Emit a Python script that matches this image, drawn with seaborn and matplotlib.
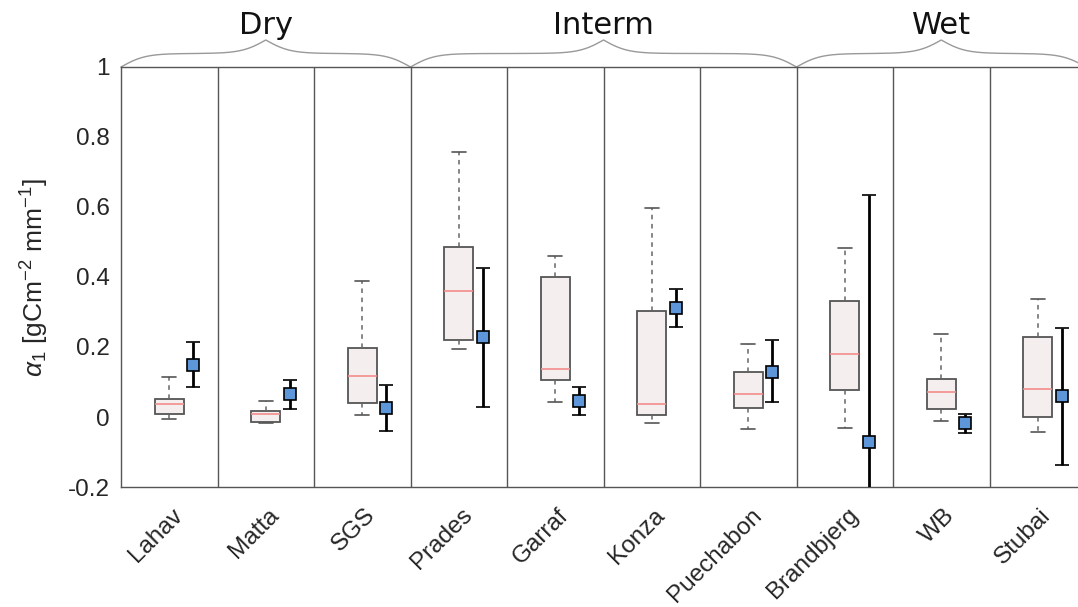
import numpy as np
import pandas as pd
import matplotlib
matplotlib.use("Agg")
import matplotlib.pyplot as plt
import matplotlib.transforms as mtransforms
import seaborn as sns

# sites along the x axis
sites = ["Lahav", "Matta", "SGS", "Prades", "Garraf", "Konza",
         "Puechabon", "Brandbjerg", "WB", "Stubai"]

# box summaries
whisk_lo = [-0.006, -0.016, 0.007, 0.193, 0.042, -0.016, -0.035, -0.032, -0.011, -0.042]
q1 = [0.008, -0.014, 0.040, 0.219, 0.106, 0.006, 0.025, 0.077, 0.023, 0.001]
med = [0.038, 0.008, 0.118, 0.360, 0.137, 0.036, 0.065, 0.181, 0.071, 0.081]
q3 = [0.052, 0.016, 0.198, 0.486, 0.399, 0.304, 0.129, 0.330, 0.110, 0.229]
whisk_hi = [0.114, 0.046, 0.389, 0.756, 0.461, 0.597, 0.208, 0.484, 0.236, 0.337]

# blue squares and their error bars
est = [0.150, 0.065, 0.025, 0.228, 0.047, 0.311, 0.130, -0.071, -0.016, 0.060]
est_lo = [0.085, 0.023, -0.040, 0.030, 0.007, 0.258, 0.042, -0.777, -0.045, -0.137]
est_hi = [0.215, 0.107, 0.091, 0.426, 0.086, 0.365, 0.219, 0.635, 0.010, 0.255]

groups = ["Dry", "Interm", "Wet"]
group_sizes = [3, 4, 3]

yticks = [-0.2, 0, 0.2, 0.4, 0.6, 0.8, 1]
ytick_labels = ["-0.2", "0", "0.2", "0.4", "0.6", "0.8", "1"]

sns.set_style("white")
plt.rcParams["font.family"] = ["Liberation Sans", "DejaVu Sans"]
plt.rcParams["mathtext.fontset"] = "custom"
plt.rcParams["mathtext.rm"] = "Liberation Sans"
plt.rcParams["mathtext.it"] = "Liberation Sans:italic"

# each box from its five numbers; whiskers at min/max
rows = []
for i, s in enumerate(sites):
    for v in (whisk_lo[i], q1[i], med[i], q3[i], whisk_hi[i]):
        rows.append({"site": s, "alpha": v})
df = pd.DataFrame(rows)

fig = plt.figure(figsize=(10.78, 6.07), dpi=100)
ax = fig.add_axes([121 / 1078, 120 / 607, 965 / 1078, 420 / 607])

edge = "#555555"
sns.boxplot(data=df, x="site", y="alpha", order=sites, ax=ax,
            width=0.3, whis=(0, 100), color="#f4eeee", saturation=1,
            linecolor=edge, linewidth=1.3, fliersize=0,
            medianprops=dict(color="#f28c8c", linewidth=1.2),
            whiskerprops=dict(linestyle=(0, (3, 3)), color="#666666", linewidth=1.1),
            capprops=dict(color="#555555", linewidth=1.2))

xpos = np.arange(len(sites)) + 0.25
est_a = np.array(est)
yerr = [est_a - np.array(est_lo), np.array(est_hi) - est_a]
ax.errorbar(xpos, est_a, yerr=yerr, fmt="s", ms=9, mfc="#5e97d9", mec="black",
            mew=1.2, ecolor="black", elinewidth=2, capsize=5, capthick=2, zorder=5)

for i in range(len(sites) - 1):
    ax.axvline(i + 0.5, color=edge, lw=1, zorder=1)

ax.set_xlim(-0.5, len(sites) - 0.5)
ax.set_ylim(-0.2, 1)
ax.set_yticks(yticks)
ax.set_yticklabels(ytick_labels)
ax.tick_params(axis="both", length=0, labelsize=17.5, colors="#262626")
ax.tick_params(axis="y", pad=8)
ax.tick_params(axis="x", pad=18)
ax.set_xlabel("")
ax.set_ylabel(r"$\alpha_1$ [gCm$^{-2}$ mm$^{-1}$]", fontsize=19, labelpad=12, color="#262626")

shift = mtransforms.ScaledTranslation(7 / 72, 0, fig.dpi_scale_trans)
for lab in ax.get_xticklabels():
    lab.set_rotation(45)
    lab.set_ha("right")
    lab.set_va("center")
    lab.set_rotation_mode("anchor")
    lab.set_transform(lab.get_transform() + shift)

for sp in ax.spines.values():
    sp.set_color(edge)
    sp.set_linewidth(1)

# curly braces over the site groups
trans = mtransforms.blended_transform_factory(ax.transData, ax.transAxes)
h = 27 / 420
start = -0.5
for g, n in zip(groups, group_sizes):
    x0, x1 = start, start + n
    xs = np.linspace(x0, x1, 401)
    half = xs[:201]
    beta = 8
    yh = 1 / (1 + np.exp(-beta * (half - half[0]))) + 1 / (1 + np.exp(-beta * (half - half[-1])))
    yb = np.concatenate((yh, yh[-2::-1])) - 0.5
    ax.plot(xs, 1 + yb * h, color="#999999", lw=1, transform=trans, clip_on=False)
    ax.text((x0 + x1) / 2, 1 + h + 0.0, g, transform=trans, ha="center", va="bottom",
            fontsize=22, family="DejaVu Sans", color="#111111")
    start = x1

fig.savefig("out.png", dpi=100)
